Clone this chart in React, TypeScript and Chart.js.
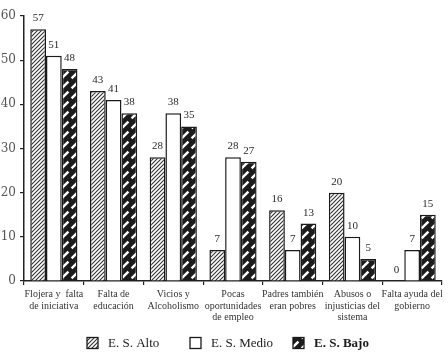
import { useEffect, useRef } from "react";
import { Chart, registerables } from "chart.js";

Chart.register(...registerables);

const categories: string[][] = [
  ["Flojera y  falta", "de iniciativa"],
  ["Falta de", "educación"],
  ["Vicios y", "Alcoholismo"],
  ["Pocas", "oportunidades", "de empleo"],
  ["Padres también", "eran pobres"],
  ["Abusos o", "injusticias del", "sistema"],
  ["Falta ayuda del", "gobierno"],
];
const seriesNames = ["E. S. Alto", "E. S. Medio", "E. S. Bajo"];
const alto = [57, 43, 28, 7, 16, 20, 0];
const medio = [51, 41, 38, 28, 7, 10, 7];
const bajo = [48, 38, 35, 27, 13, 5, 15];
const yMin = 0;
const yMax = 60;
const yStep = 10;

function makeAltoPattern(): CanvasPattern | string {
  const c = document.createElement("canvas");
  c.width = 4;
  c.height = 4;
  const g = c.getContext("2d");
  if (!g) return "#999";
  g.fillStyle = "#ffffff";
  g.fillRect(0, 0, 4, 4);
  g.strokeStyle = "#333";
  g.lineWidth = 1.1;
  g.beginPath();
  g.moveTo(0, 4);
  g.lineTo(4, 0);
  g.moveTo(-1, 1);
  g.lineTo(1, -1);
  g.moveTo(3, 5);
  g.lineTo(5, 3);
  g.stroke();
  return g.createPattern(c, "repeat") as CanvasPattern;
}

function makeBajoPattern(): CanvasPattern | string {
  const c = document.createElement("canvas");
  c.width = 10;
  c.height = 10;
  const g = c.getContext("2d");
  if (!g) return "#222";
  g.fillStyle = "#1c1c1c";
  g.fillRect(0, 0, 10, 10);
  g.strokeStyle = "#ffffff";
  g.lineWidth = 2.4;
  g.beginPath();
  g.moveTo(1.6, 8.4);
  g.lineTo(8.4, 1.6);
  g.stroke();
  return g.createPattern(c, "repeat") as CanvasPattern;
}

export default function App() {
  const ref = useRef<HTMLCanvasElement | null>(null);

  useEffect(() => {
    if (!ref.current) return;
    const altoFill = makeAltoPattern();
    const bajoFill = makeBajoPattern();
    const fills = [altoFill, "#ffffff", bajoFill];

    const valueLabels = {
      id: "valueLabels",
      afterDatasetsDraw(chart: any) {
        const ctx = chart.ctx;
        ctx.save();
        ctx.font = "11px 'Liberation Serif'";
        ctx.fillStyle = "#2a2a2a";
        ctx.textAlign = "center";
        ctx.textBaseline = "alphabetic";
        chart.data.datasets.forEach((ds: any, di: number) => {
          const meta = chart.getDatasetMeta(di);
          meta.data.forEach((el: any, i: number) => {
            ctx.fillText(String(ds.data[i]), el.x, el.y - 8);
          });
        });
        ctx.restore();
      },
    };

    const customLegend = {
      id: "customLegend",
      afterDraw(chart: any) {
        const ctx = chart.ctx;
        ctx.save();
        const pitch = 103;
        let x = chart.width / 2 - 137;
        const yc = 343;
        seriesNames.forEach((name, i) => {
          ctx.fillStyle = fills[i];
          ctx.fillRect(x, yc - 5.5, 11, 11);
          ctx.strokeStyle = "#1a1a1a";
          ctx.lineWidth = 1.3;
          ctx.strokeRect(x, yc - 5.5, 11, 11);
          ctx.fillStyle = "#1a1a1a";
          ctx.font = (i === 2 ? "bold " : "") + "13px 'Liberation Serif'";
          ctx.textAlign = "left";
          ctx.textBaseline = "middle";
          ctx.fillText(name, x + 21, yc + 1);
          x += pitch;
        });
        ctx.restore();
      },
    };

    const chart = new Chart(ref.current, {
      type: "bar",
      data: {
        labels: categories,
        datasets: [alto, medio, bajo].map((d, i) => ({
          label: seriesNames[i],
          data: d,
          backgroundColor: fills[i] as any,
          borderColor: "#1a1a1a",
          borderWidth: 1.5,
          borderSkipped: "bottom" as const,
          categoryPercentage: 0.79,
          barPercentage: 1.0,
        })),
      },
      options: {
        responsive: false,
        animation: false,
        layout: { padding: { top: 16, right: 6, left: 0, bottom: 0 } },
        plugins: {
          legend: { display: false },
          tooltip: { enabled: false },
        },
        scales: {
          x: {
            grid: {
              offset: true,
              drawOnChartArea: false,
              drawTicks: true,
              tickLength: 4,
              color: "#222",
              lineWidth: 1.2,
            },
            border: { color: "#222", width: 1.5 },
            ticks: {
              font: { family: "'Liberation Serif'", size: 10, lineHeight: 1.15 },
              color: "#333",
              padding: 4,
              maxRotation: 0,
              autoSkip: false,
            },
            afterFit: (s: any) => {
              s.height = 72;
            },
          },
          y: {
            min: yMin,
            max: yMax,
            ticks: {
              stepSize: yStep,
              font: { family: "'DejaVu Serif'", size: 12 },
              color: "#555",
              padding: 4,
            },
            grid: {
              drawOnChartArea: false,
              drawTicks: true,
              tickLength: 4,
              color: "#222",
              lineWidth: 1.2,
            },
            border: { color: "#222", width: 1.5 },
            afterFit: (s: any) => {
              s.width = 24;
            },
          },
        },
      },
      plugins: [valueLabels, customLegend],
    });
    return () => chart.destroy();
  }, []);

  return (
    <div style={{ position: "absolute", left: 0, top: 0, width: 448, height: 353, background: "#fff" }}>
      <canvas ref={ref} width={448} height={353} />
    </div>
  );
}
